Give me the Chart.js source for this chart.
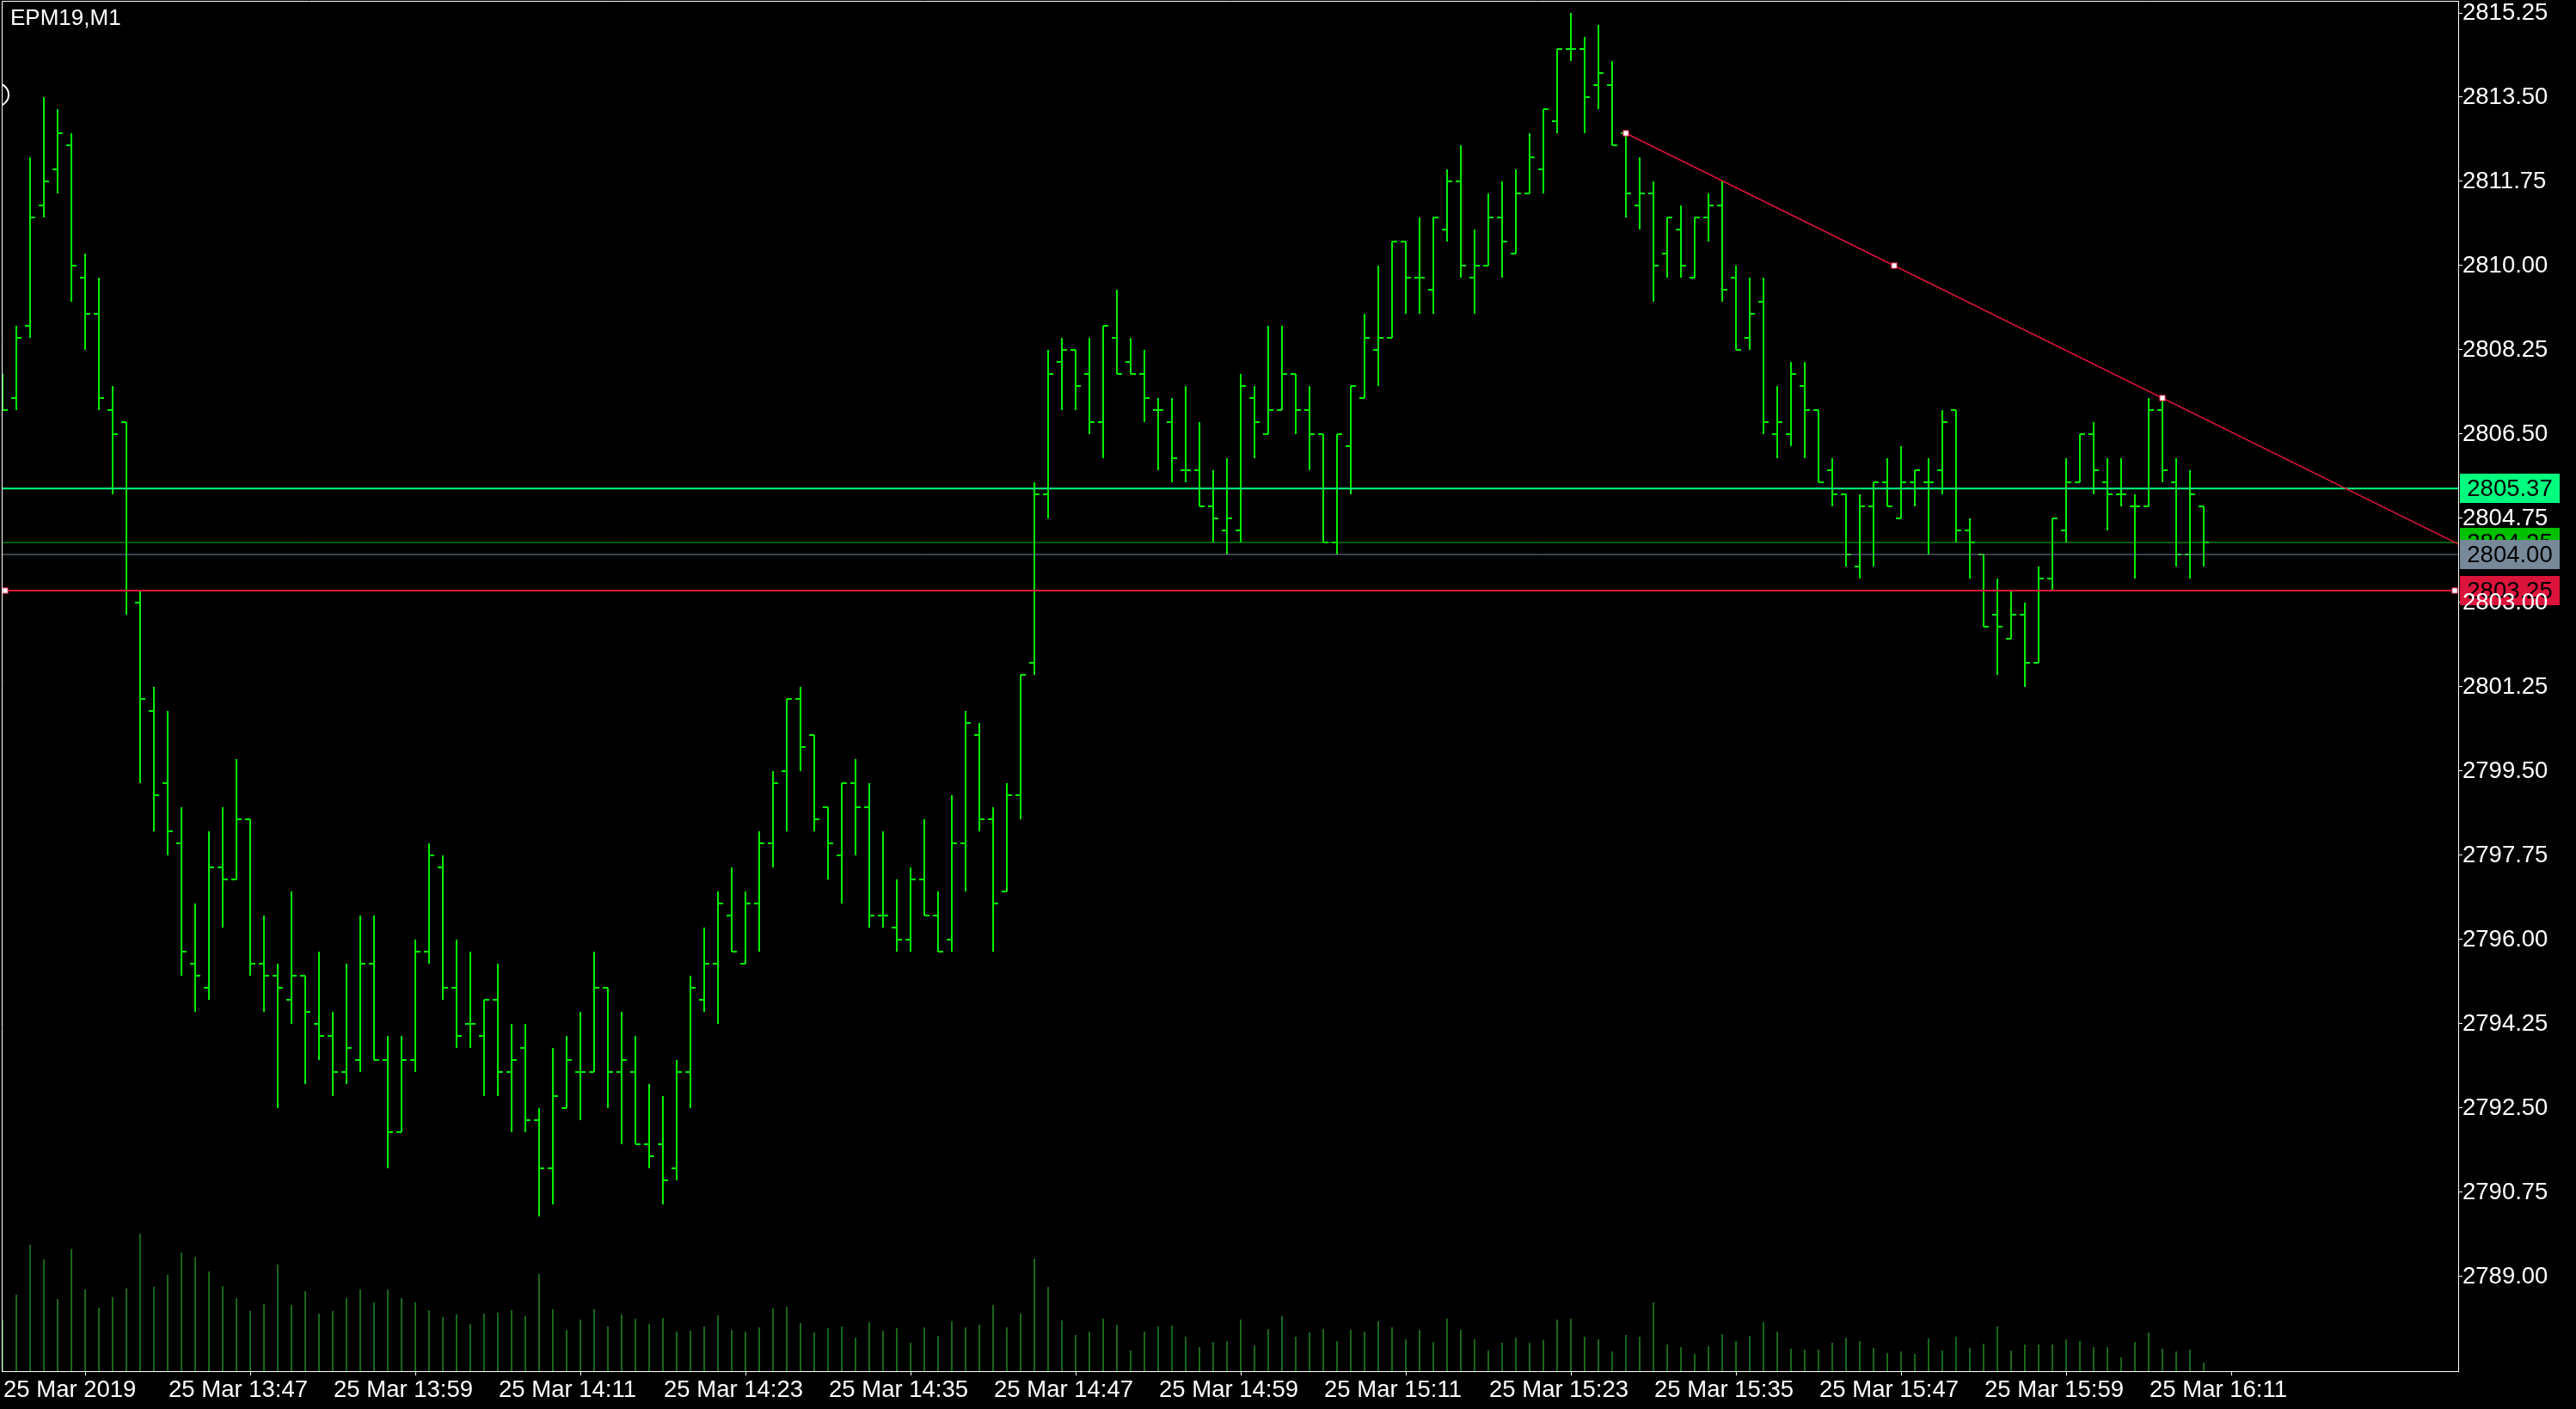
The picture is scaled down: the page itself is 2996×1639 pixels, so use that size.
<!DOCTYPE html>
<html>
<head>
<meta charset="utf-8">
<title>EPM19,M1</title>
<script src="https://cdn.jsdelivr.net/npm/chart.js@4.4.1/dist/chart.umd.min.js"></script>
<style>
  html, body { margin: 0; padding: 0; background: #000; overflow: hidden; }
  canvas { display: block; }
</style>
</head>
<body>
<canvas id="chart" width="2996" height="1639"></canvas>
<script>
// EPM19 one-minute bars, 25 Mar 2019, first bar at 13:35
const barStart = '13:35';
const symbolTitle = 'EPM19,M1';

const opens = [
  2807.5, 2807.25, 2808.75, 2811.25, 2812.0, 2812.5, 2809.75, 2809.0, 2807.0, 2806.75,
  2803.0, 2800.75, 2799.25, 2798.0, 2795.5, 2795.0, 2797.5, 2797.25, 2798.5, 2795.5,
  2795.25, 2794.75, 2795.25, 2794.25, 2794.0, 2793.25, 2793.5, 2795.5, 2793.5, 2792.0,
  2793.5, 2795.75, 2797.5, 2795.0, 2794.25, 2794.0, 2794.75, 2793.25, 2793.75, 2792.25,
  2791.25, 2792.5, 2793.25, 2793.25, 2795.0, 2793.25, 2793.25, 2791.75, 2791.75, 2791.25,
  2793.25, 2794.75, 2795.5, 2796.5, 2795.5, 2796.75, 2798.0, 2799.5, 2801.0, 2800.25,
  2798.75, 2797.75, 2799.25, 2798.75, 2796.5, 2796.25, 2796.0, 2797.25, 2796.5, 2796.0,
  2798.0, 2800.25, 2798.5, 2797.0, 2799.0, 2801.75, 2805.25, 2808.0, 2808.25, 2807.75,
  2806.75, 2808.5, 2808.0, 2807.75, 2807.0, 2806.75, 2805.75, 2805.75, 2805.0, 2804.5,
  2804.5, 2807.25, 2806.5, 2807.0, 2807.75, 2807.0, 2806.5, 2804.25, 2806.25, 2807.25,
  2808.25, 2808.5, 2810.5, 2809.75, 2809.5, 2810.75, 2811.75, 2809.75, 2810.0, 2811.0,
  2810.25, 2811.5, 2812.0, 2813.0, 2814.5, 2814.5, 2813.75, 2813.75, 2812.75, 2811.25,
  2811.5, 2810.25, 2810.75, 2809.75, 2811.0, 2811.25, 2809.75, 2808.5, 2809.25, 2806.5,
  2806.5, 2807.5, 2807.0, 2805.75, 2805.25, 2803.75, 2805.0, 2805.5, 2804.75, 2805.5,
  2805.5, 2805.75, 2807.0, 2804.5, 2804.0, 2802.75, 2802.25, 2802.75, 2801.75, 2803.5,
  2804.5, 2805.5, 2806.5, 2805.5, 2805.25, 2805.0, 2805.0, 2807.0, 2805.5, 2804.0,
  2805.0
];
const highs = [
  2807.75, 2808.75, 2812.25, 2813.5, 2813.25, 2812.75, 2810.25, 2809.75, 2807.5, 2806.75,
  2803.25, 2801.25, 2800.75, 2798.75, 2796.75, 2798.25, 2798.75, 2799.75, 2798.5, 2796.5,
  2795.5, 2797.0, 2795.25, 2795.75, 2794.5, 2795.5, 2796.5, 2796.5, 2794.0, 2794.0,
  2796.0, 2798.0, 2797.75, 2796.0, 2795.75, 2794.75, 2795.5, 2794.25, 2794.25, 2792.5,
  2793.75, 2794.0, 2794.5, 2795.75, 2795.0, 2794.5, 2794.0, 2793.0, 2792.75, 2793.5,
  2795.25, 2796.25, 2797.0, 2797.5, 2797.0, 2798.25, 2799.5, 2801.0, 2801.25, 2800.25,
  2798.75, 2799.25, 2799.75, 2799.25, 2798.25, 2797.25, 2797.5, 2798.5, 2797.0, 2799.0,
  2800.75, 2800.5, 2798.75, 2799.25, 2801.5, 2805.5, 2808.25, 2808.5, 2808.25, 2808.5,
  2808.75, 2809.5, 2808.5, 2808.25, 2807.25, 2807.25, 2807.5, 2806.75, 2805.75, 2806.0,
  2807.75, 2807.5, 2808.75, 2808.75, 2807.75, 2807.5, 2806.5, 2806.5, 2807.5, 2809.0,
  2810.0, 2810.5, 2810.5, 2811.0, 2811.0, 2812.0, 2812.5, 2810.75, 2811.5, 2811.75,
  2812.0, 2812.75, 2813.25, 2814.5, 2815.25, 2814.75, 2815.0, 2814.25, 2812.75, 2812.25,
  2811.75, 2811.0, 2811.25, 2811.0, 2811.5, 2811.75, 2810.0, 2809.75, 2809.75, 2807.5,
  2808.0, 2808.0, 2807.0, 2806.0, 2805.25, 2805.25, 2805.5, 2806.0, 2806.25, 2805.75,
  2806.0, 2807.0, 2807.0, 2804.75, 2804.0, 2803.5, 2803.25, 2803.0, 2803.75, 2804.75,
  2806.0, 2806.5, 2806.75, 2806.0, 2806.0, 2805.25, 2807.25, 2807.25, 2806.0, 2805.75,
  2805.0
];
const lows = [
  2807.0, 2807.0, 2808.5, 2811.0, 2811.5, 2809.25, 2808.25, 2807.0, 2805.25, 2802.75,
  2799.25, 2798.25, 2797.75, 2795.25, 2794.5, 2794.75, 2796.25, 2797.25, 2795.25, 2794.5,
  2792.5, 2794.25, 2793.0, 2793.5, 2792.75, 2793.0, 2793.25, 2793.5, 2791.25, 2792.0,
  2793.25, 2795.5, 2794.75, 2793.75, 2793.75, 2792.75, 2792.75, 2792.0, 2792.0, 2790.25,
  2790.5, 2792.5, 2792.25, 2793.25, 2792.5, 2791.75, 2791.75, 2791.25, 2790.5, 2791.0,
  2792.5, 2794.5, 2794.25, 2795.75, 2795.5, 2795.75, 2797.5, 2798.25, 2799.5, 2798.25,
  2797.25, 2796.75, 2797.75, 2796.25, 2796.25, 2795.75, 2795.75, 2796.5, 2795.75, 2795.75,
  2797.0, 2798.25, 2795.75, 2797.0, 2798.5, 2801.5, 2804.75, 2807.0, 2807.0, 2806.5,
  2806.0, 2807.75, 2807.75, 2806.75, 2805.75, 2805.5, 2805.5, 2805.0, 2804.25, 2804.0,
  2804.25, 2806.0, 2806.5, 2807.0, 2806.5, 2805.75, 2804.25, 2804.0, 2805.25, 2807.25,
  2807.5, 2808.5, 2809.0, 2809.0, 2809.0, 2810.5, 2809.75, 2809.0, 2810.0, 2809.75,
  2810.25, 2811.5, 2811.5, 2812.75, 2814.25, 2812.75, 2813.25, 2812.5, 2811.0, 2810.75,
  2809.25, 2809.75, 2809.75, 2809.75, 2810.5, 2809.25, 2808.25, 2808.25, 2806.5, 2806.0,
  2806.25, 2806.0, 2805.5, 2805.0, 2803.75, 2803.5, 2803.75, 2805.0, 2804.75, 2805.0,
  2804.0, 2805.25, 2804.25, 2803.5, 2802.5, 2801.5, 2802.25, 2801.25, 2801.75, 2803.25,
  2804.25, 2805.5, 2805.25, 2804.5, 2805.0, 2803.5, 2805.0, 2805.5, 2803.75, 2803.5,
  2803.75
];
const closes = [
  2807.0, 2808.5, 2811.0, 2811.75, 2812.75, 2810.0, 2809.0, 2807.25, 2806.5, 2803.25,
  2801.0, 2799.0, 2798.25, 2795.75, 2795.25, 2797.5, 2797.25, 2798.5, 2795.5, 2795.25,
  2795.0, 2795.25, 2794.5, 2794.0, 2793.25, 2793.75, 2795.5, 2793.5, 2792.0, 2793.5,
  2795.75, 2797.75, 2795.0, 2794.0, 2794.25, 2794.75, 2793.25, 2793.5, 2792.25, 2791.25,
  2792.75, 2793.5, 2793.25, 2795.0, 2793.25, 2793.5, 2791.75, 2791.5, 2791.0, 2793.25,
  2795.0, 2795.5, 2796.75, 2795.75, 2796.75, 2798.0, 2799.25, 2801.0, 2800.0, 2798.5,
  2798.0, 2799.25, 2798.75, 2796.5, 2796.5, 2796.0, 2797.25, 2796.5, 2795.75, 2798.0,
  2800.5, 2798.5, 2796.75, 2799.0, 2801.5, 2805.25, 2807.75, 2808.25, 2807.5, 2806.75,
  2808.75, 2807.75, 2807.75, 2807.25, 2807.0, 2806.0, 2805.75, 2805.0, 2804.75, 2804.75,
  2807.5, 2806.75, 2807.0, 2807.75, 2807.0, 2806.5, 2804.25, 2806.5, 2807.5, 2808.5,
  2808.5, 2810.5, 2809.75, 2809.75, 2811.0, 2811.75, 2810.0, 2810.0, 2811.0, 2810.5,
  2811.5, 2812.25, 2813.25, 2814.5, 2814.5, 2813.5, 2814.0, 2812.5, 2811.5, 2811.5,
  2810.0, 2811.0, 2810.0, 2811.0, 2811.25, 2809.5, 2808.25, 2809.0, 2806.75, 2806.75,
  2807.75, 2807.0, 2805.5, 2805.25, 2804.0, 2805.0, 2805.5, 2805.0, 2805.5, 2805.75,
  2805.5, 2806.75, 2804.5, 2804.25, 2802.5, 2802.5, 2802.75, 2801.75, 2803.5, 2804.75,
  2805.5, 2806.5, 2805.75, 2805.25, 2805.25, 2805.0, 2807.0, 2805.75, 2804.0, 2805.25,
  2804.25
];
const volumes = [
  60, 89, 147, 130, 84, 142, 95, 74, 86, 96,
  160, 98, 112, 138, 133, 116, 99, 85, 70, 78,
  124, 77, 93, 67, 70, 85, 95, 80, 95, 85,
  80, 71, 63, 66, 55, 67, 68, 71, 64, 113,
  72, 48, 60, 72, 52, 66, 61, 55, 62, 46,
  47, 52, 65, 48, 46, 51, 73, 75, 56, 45,
  50, 52, 39, 57, 47, 50, 33, 51, 41, 58,
  51, 54, 77, 51, 67, 131, 98, 59, 42, 46,
  61, 54, 24, 46, 52, 53, 40, 28, 34, 35,
  60, 30, 49, 64, 40, 45, 49, 35, 48, 46,
  58, 51, 37, 48, 34, 61, 48, 37, 24, 33,
  39, 33, 36, 60, 61, 40, 37, 23, 42, 40,
  80, 31, 28, 20, 29, 43, 35, 41, 57, 46,
  26, 25, 25, 33, 39, 35, 27, 21, 23, 20,
  38, 24, 40, 27, 32, 52, 24, 31, 31, 31,
  37, 35, 28, 28, 16, 34, 45, 26, 23, 25,
  10
];

const axisTimes = ['13:35', '13:47', '13:59', '14:11', '14:23', '14:35', '14:47',
  '14:59', '15:11', '15:23', '15:35', '15:47', '15:59', '16:11'];
const axisLabels = ['25 Mar 2019', '25 Mar 13:47', '25 Mar 13:59', '25 Mar 14:11',
  '25 Mar 14:23', '25 Mar 14:35', '25 Mar 14:47', '25 Mar 14:59', '25 Mar 15:11',
  '25 Mar 15:23', '25 Mar 15:35', '25 Mar 15:47', '25 Mar 15:59', '25 Mar 16:11'];
const priceTicks = [2815.25, 2813.50, 2811.75, 2810.00, 2808.25, 2806.50, 2804.75,
  2803.00, 2801.25, 2799.50, 2797.75, 2796.00, 2794.25, 2792.50, 2790.75, 2789.00];

// horizontal lines: ask, indicator, bid, user level
const levelPrices = [2805.37, 2804.25, 2804.00, 2803.25];
// trend line anchors (ray to the right edge)
const trendTimes = ['15:33', '16:12'];
const trendPrices = [2812.75, 2807.25];
// ellipse object cut off at the left edge
const ellipseCenter = { bar: -0.375, price: 2813.55 };

// ---- styles / geometry ----
const FONT = { family: "'Liberation Sans', Arial, sans-serif", size: 27.5 };
const BAR_COLOR = '#00f000';
const VOLUME_COLOR = '#32cd32';
const TREND_COLOR = '#dc143c';
const levelColors = ['#00ff7f', '#00c000', '#778899', '#dc143c'];
const levelWidths = [2, 1, 1, 2];

const W = 2996, H = 1639;
const plotLeft = 2, plotTop = 1, axisWidth = 137, axisHeight = 44;
const pxPerBar = 16, pxPerPoint = 56;
const xMin = -1 / pxPerBar;
const xMax = xMin + (W - axisWidth - plotLeft) / pxPerBar;
const yMax = 2815.5;
const yMin = yMax - (H - axisHeight - plotTop) / pxPerPoint;
const tickOffset = 3 / pxPerBar;
const handleInset = 0.25;

const toMinutes = t => { const [h, m] = t.split(':').map(Number); return h * 60 + m; };
const barIndex = t => toMinutes(t) - toMinutes(barStart);
const idx = opens.map((_, i) => i);

const t0 = barIndex(trendTimes[0]), t1 = barIndex(trendTimes[1]);
const slope = (trendPrices[1] - trendPrices[0]) / (t1 - t0);
const trendEnd = trendPrices[0] + slope * (xMax - t0);
const userLevel = levelPrices[3];

const decor = {
  id: 'decor',
  afterDatasetsDraw(chart) {
    const { ctx, chartArea: a, scales: { y } } = chart;
    ctx.save();
    ctx.strokeStyle = '#fff';
    ctx.lineWidth = 1;
    ctx.beginPath();
    ctx.moveTo(a.left + 0.5, a.bottom);
    ctx.lineTo(a.left + 0.5, a.top + 0.5);
    ctx.lineTo(a.right, a.top + 0.5);
    ctx.stroke();
    // price tags on the right scale
    ctx.font = `${FONT.size}px ${FONT.family}`;
    ctx.textAlign = 'center';
    ctx.textBaseline = 'middle';
    levelPrices.forEach((p, i) => {
      const py = Math.round(y.getPixelForValue(p));
      ctx.fillStyle = levelColors[i];
      ctx.fillRect(a.right + 2, py - 17, 116, 34);
      ctx.fillStyle = '#000';
      ctx.fillText(p.toFixed(2), a.right + 60, py + 1);
    });
    ctx.fillStyle = '#fff';
    ctx.textAlign = 'left';
    ctx.textBaseline = 'top';
    ctx.font = `26px ${FONT.family}`;
    ctx.fillText(symbolTitle, 12, 9);
    ctx.restore();
  }
};

const datasets = [
  {
    type: 'bar', yAxisID: 'yv', order: 9,
    data: volumes.map((v, i) => ({ x: i, y: v })),
    backgroundColor: VOLUME_COLOR, grouped: false,
    barThickness: 1, maxBarThickness: 1, inflateAmount: 0
  },
  {
    type: 'bar', order: 5,
    data: idx.map(i => ({ x: i, y: [lows[i], highs[i]] })),
    backgroundColor: BAR_COLOR, grouped: false,
    barThickness: 2, maxBarThickness: 2, inflateAmount: 0
  },
  {
    type: 'scatter', order: 4,
    data: idx.map(i => ({ x: i - tickOffset, y: opens[i] })),
    pointStyle: 'line', pointRadius: 3, borderColor: BAR_COLOR, pointBorderWidth: 2
  },
  {
    type: 'scatter', order: 4,
    data: idx.map(i => ({ x: i + tickOffset, y: closes[i] })),
    pointStyle: 'line', pointRadius: 3, borderColor: BAR_COLOR, pointBorderWidth: 2
  },
  ...levelPrices.map((p, k) => ({
    type: 'line', order: 3,
    data: [{ x: xMin, y: p }, { x: xMax, y: p }],
    borderColor: levelColors[k], borderWidth: levelWidths[k], pointRadius: 0
  })),
  {
    type: 'line', order: 2,
    data: [{ x: t0, y: trendPrices[0] }, { x: xMax, y: trendEnd }],
    borderColor: TREND_COLOR, borderWidth: 1.6, pointRadius: 0
  },
  {
    type: 'scatter', order: 1,
    data: [
      { x: t0, y: trendPrices[0] },
      { x: (t0 + t1) / 2, y: (trendPrices[0] + trendPrices[1]) / 2 },
      { x: t1, y: trendPrices[1] },
      { x: xMin + handleInset, y: userLevel },
      { x: xMax - handleInset, y: userLevel }
    ],
    pointStyle: 'rect', pointRadius: 4.5, backgroundColor: '#fff',
    borderColor: TREND_COLOR, pointBorderWidth: 1
  },
  {
    type: 'scatter', order: 1, clip: 0,
    data: [{ x: ellipseCenter.bar, y: ellipseCenter.price }],
    pointStyle: 'circle', pointRadius: 13, backgroundColor: 'rgba(0,0,0,0)',
    borderColor: '#fff', pointBorderWidth: 2
  }
];

new Chart(document.getElementById('chart').getContext('2d'), {
  type: 'bar',
  data: { datasets },
  options: {
    responsive: false,
    devicePixelRatio: 1,
    animation: false,
    events: [],
    layout: { autoPadding: false, padding: { left: plotLeft, top: plotTop, right: 0, bottom: 0 } },
    plugins: { legend: { display: false }, tooltip: { enabled: false } },
    scales: {
      x: {
        type: 'linear', min: xMin, max: xMax, offset: false,
        afterBuildTicks: s => { s.ticks = axisTimes.map(t => ({ value: barIndex(t) })); },
        afterFit: s => { s.height = axisHeight; s.paddingLeft = 0; s.paddingRight = 0; },
        grid: { drawOnChartArea: false, drawTicks: true, tickLength: 5, color: '#fff' },
        border: { display: true, color: '#fff', width: 1 },
        ticks: {
          color: '#fff', font: FONT, align: 'start', maxRotation: 0, minRotation: 0,
          autoSkip: false, padding: 1, labelOffset: 1, callback: (v, i) => axisLabels[i]
        }
      },
      y: {
        position: 'right', min: yMin, max: yMax,
        afterBuildTicks: s => { s.ticks = priceTicks.map(v => ({ value: v })); },
        afterFit: s => { s.width = axisWidth; s.paddingTop = 0; s.paddingBottom = 0; },
        grid: { drawOnChartArea: false, drawTicks: true, tickLength: 5, color: '#fff' },
        border: { display: true, color: '#fff', width: 1 },
        ticks: {
          color: '#fff', font: FONT, padding: 0, autoSkip: false, z: 1,
          callback: v => v.toFixed(2)
        }
      },
      yv: { display: false, min: 0, max: H - axisHeight - plotTop }
    }
  },
  plugins: [decor]
});
</script>
</body>
</html>
